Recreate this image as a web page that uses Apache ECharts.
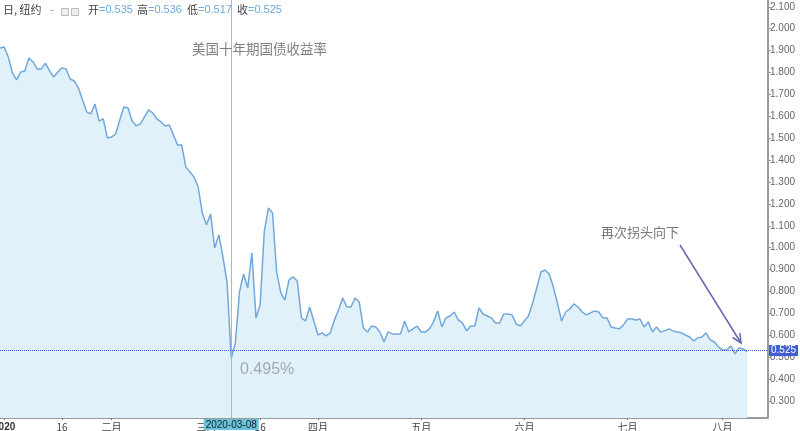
<!DOCTYPE html>
<html><head><meta charset="utf-8">
<script src="https://cdn.jsdelivr.net/npm/echarts@6/dist/echarts.min.js"></script>
<style>html,body{margin:0;padding:0;background:#fff}#c{width:800px;height:431px}</style>
</head><body><div id="c"></div>
<script>
// Daily yield values (%)
const values = [1.912, 1.916, 1.871, 1.798, 1.766, 1.802, 1.807, 1.866, 1.848, 1.816,
  1.816, 1.843, 1.807, 1.779, 1.802, 1.821, 1.816, 1.770, 1.761, 1.729,
  1.674, 1.620, 1.611, 1.656, 1.578, 1.588, 1.501, 1.505, 1.519, 1.583,
  1.642, 1.638, 1.578, 1.556, 1.565, 1.597, 1.629, 1.615, 1.588, 1.574,
  1.556, 1.560, 1.515, 1.469, 1.469, 1.368, 1.346, 1.323, 1.277, 1.158,
  1.104, 1.154, 0.999, 1.058, 0.958, 0.839, 0.495, 0.565, 0.798, 0.880,
  0.816, 0.976, 0.679, 0.738, 1.072, 1.181, 1.158, 0.889, 0.793, 0.761,
  0.853, 0.866, 0.848, 0.679, 0.665, 0.729, 0.665, 0.601, 0.611, 0.597,
  0.611, 0.670, 0.716, 0.770, 0.729, 0.729, 0.770, 0.752, 0.633, 0.615,
  0.642, 0.638, 0.615, 0.569, 0.615, 0.606, 0.606, 0.606, 0.665, 0.615,
  0.629, 0.642, 0.615, 0.615, 0.629, 0.661, 0.711, 0.638, 0.679, 0.688,
  0.706, 0.670, 0.656, 0.620, 0.642, 0.642, 0.725, 0.697, 0.688, 0.679,
  0.656, 0.656, 0.697, 0.697, 0.693, 0.652, 0.642, 0.665, 0.688, 0.747,
  0.816, 0.889, 0.898, 0.880, 0.821, 0.747, 0.665, 0.706, 0.720, 0.743,
  0.729, 0.706, 0.693, 0.702, 0.711, 0.706, 0.679, 0.679, 0.638, 0.633,
  0.629, 0.647, 0.674, 0.674, 0.670, 0.674, 0.638, 0.661, 0.615, 0.638,
  0.615, 0.620, 0.629, 0.620, 0.615, 0.611, 0.601, 0.592, 0.574, 0.588,
  0.592, 0.611, 0.579, 0.569, 0.547, 0.533, 0.533, 0.551, 0.515, 0.542,
  0.537, 0.525];

// empty bar slots to the right of the last bar (chart right margin)
const padSlots = 5;
const categories = values.map((_, i) => 'b' + i)
  .concat(Array.from({length: padSlots}, (_, i) => 'pad' + i));

// bottom axis tick labels: category index -> text
const tickIndex = [1, 15, 27, 50, 63, 77, 102, 127, 152, 175];
const tickText  = ['2020', '16', '二月', '三月', '16', '四月', '五月', '六月', '七月', '八月'];

const yMin = 0.222, yMax = 2.131;
const lastValue = 0.525;
const pointerDate = '2020-03-08';
const lowLabel = '0.495%';
const ohlcNames  = ['开', '高', '低', '收'];
const ohlcValues = ['0.535', '0.536', '0.517', '0.525'];
const titleText = '美国十年期国债收益率';
const noteText = '再次拐头向下';

const tickMap = {};
tickIndex.forEach((k, i) => tickMap[k] = tickText[i]);
const minIndex = values.indexOf(Math.min(...values));

const FONT = "'Liberation Sans','Noto Sans CJK SC',sans-serif";
const CJK = "'Noto Sans CJK SC','Liberation Sans',sans-serif";

const chart = echarts.init(document.getElementById('c'), null, {renderer: 'canvas'});

const ohlcX = [88, 137, 187, 237];
const headerGraphics = [
  {type: 'text', left: 3, top: 4, z: 100, style: {text: '日, 纽约', font: '11px ' + CJK, fill: '#444'}},
  {type: 'text', left: 50, top: 4, z: 100, style: {text: '-', font: '11px ' + FONT, fill: '#999'}},
  {type: 'rect', left: 61, top: 8, z: 100, shape: {width: 7, height: 7}, style: {fill: '#eee', stroke: '#bbb', lineWidth: 1}},
  {type: 'rect', left: 71, top: 8, z: 100, shape: {width: 7, height: 7}, style: {fill: '#eee', stroke: '#bbb', lineWidth: 1}}
];
ohlcNames.forEach((n, i) => {
  headerGraphics.push({
    type: 'text', left: ohlcX[i], top: 4, z: 100,
    style: {
      text: '{l|' + n + '}{v|=' + ohlcValues[i] + '}',
      rich: {
        l: {font: '11px ' + CJK, fill: '#444'},
        v: {font: '11px ' + FONT, fill: '#6fa9da'}
      }
    }
  });
});

const option = {
  animation: false,
  backgroundColor: '#ffffff',
  grid: {left: 0, right: 32, top: 0, bottom: 13, containLabel: false, outerBoundsMode: 'none'},
  xAxis: {
    type: 'category',
    data: categories,
    boundaryGap: false,
    axisLine: {show: true, lineStyle: {color: '#9a9a9a', width: 2}},
    axisTick: {show: true, length: 2, interval: (i) => tickMap[i] !== undefined, lineStyle: {color: '#777'}},
    axisLabel: {
      show: true,
      interval: (i) => tickMap[i] !== undefined,
      hideOverlap: false,
      margin: 4,
      fontSize: 10,
      fontFamily: CJK,
      color: '#444',
      formatter: (v, i) => {
        const t = tickMap[i];
        if (t === undefined) return '';
        return t === '2020' ? '{y|' + t + '}' : t;
      },
      rich: {y: {fontWeight: 'bold', fontSize: 10, fontFamily: FONT, color: '#333'}}
    },
    splitLine: {show: false}
  },
  yAxis: {
    type: 'value',
    position: 'right',
    min: yMin,
    max: yMax,
    splitNumber: 19,
    scale: true,
    axisLine: {show: true, lineStyle: {color: '#9a9a9a', width: 2}},
    axisTick: {show: true, length: 3, lineStyle: {color: '#999'}},
    axisLabel: {
      show: true, margin: 2, fontSize: 10, fontFamily: FONT, color: '#666',
      showMinLabel: false, showMaxLabel: false,
      formatter: (v) => v.toFixed(3)
    },
    splitLine: {show: false}
  },
  graphic: headerGraphics.concat([
    {type: 'text', left: 192, top: 42, z: 100, style: {text: titleText, font: '13.5px ' + CJK, fill: '#808080'}},
    {type: 'text', left: 240, top: 362, z: 100, style: {text: lowLabel, font: '16px ' + FONT, fill: '#a2a9b1'}},
    {type: 'text', left: 601, top: 226, z: 100, style: {text: noteText, font: '13px ' + CJK, fill: '#777'}},
    {type: 'line', z: 100, shape: {x1: 680, y1: 245, x2: 741, y2: 343}, style: {stroke: '#6469b0', lineWidth: 1.5}},
    {type: 'polyline', z: 100, shape: {points: [[739.8, 333.1], [741, 343], [732.6, 337.5]]}, style: {stroke: '#6469b0', lineWidth: 1.5, fill: null}}
  ]),
  series: [{
    type: 'line',
    data: values,
    symbol: 'none',
    smooth: false,
    lineStyle: {color: '#72a8d9', width: 1.5},
    areaStyle: {color: '#e1f1fa', origin: 'start', opacity: 1},
    markLine: {
      silent: true,
      symbol: ['none', 'none'],
      animation: false,
      data: [
        {
          xAxis: minIndex,
          lineStyle: {color: '#84c6de', type: 'solid', width: 1},
          label: {
            show: true, position: 'start', distance: 1,
            formatter: pointerDate,
            backgroundColor: '#6cc3d6', color: '#123', padding: [1, 2, 0, 2],
            fontSize: 10, fontFamily: FONT
          }
        },
        {
          yAxis: lastValue,
          lineStyle: {color: '#3f5fd0', type: 'dotted', width: 1},
          label: {
            show: true, position: 'end', distance: 1,
            formatter: lastValue.toFixed(3),
            backgroundColor: '#3f5fd0', color: '#fff', padding: [1, 2, 0, 2],
            fontSize: 10, fontFamily: FONT
          }
        }
      ]
    }
  }]
};
chart.setOption(option);
</script>
</body></html>
